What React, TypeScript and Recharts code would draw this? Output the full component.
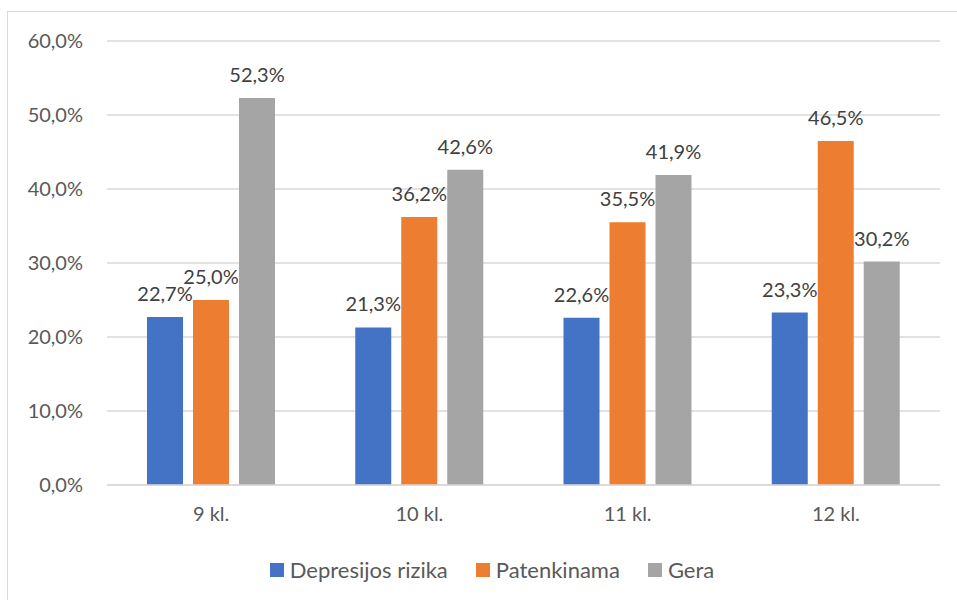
import { BarChart, Bar, XAxis, YAxis, CartesianGrid, LabelList } from 'recharts';

const categories = ['9 kl.', '10 kl.', '11 kl.', '12 kl.'];
const depresijosRizika = [22.7, 21.3, 22.6, 23.3];
const patenkinama = [25.0, 36.2, 35.5, 46.5];
const gera = [52.3, 42.6, 41.9, 30.2];
const yTicks = [0, 10, 20, 30, 40, 50, 60];

const series = [
  { key: 'depresija', name: 'Depresijos rizika', color: '#4472c4' },
  { key: 'patenkinama', name: 'Patenkinama', color: '#ed7d31' },
  { key: 'gera', name: 'Gera', color: '#a5a5a5' },
];

const data = categories.map((name, i) => ({
  name,
  depresija: depresijosRizika[i],
  patenkinama: patenkinama[i],
  gera: gera[i],
}));

const fmt = (v: any) => `${Number(v).toFixed(1).replace('.', ',')}%`;
const font = 'Lato, "Open Sans", sans-serif';
const fs = 20;

export default function App() {
  return (
    <div style={{ position: 'absolute', left: 0, top: 0, width: 957, height: 600, background: '#fff', fontFamily: font }}>
      <div
        style={{
          position: 'absolute',
          left: 7,
          top: 11,
          width: 980,
          height: 620,
          border: '1.5px solid #d9d9d9',
          boxSizing: 'border-box',
        }}
      />
      <BarChart
        width={957}
        height={600}
        data={data}
        margin={{ top: 41, right: 17, bottom: 85, left: 0 }}
        barSize={36}
        barGap={10}
        style={{ position: 'absolute', left: 0, top: 0 }}
      >
        <CartesianGrid vertical={false} stroke="#d9d9d9" strokeWidth={1.5} />
        <XAxis
          dataKey="name"
          axisLine={{ stroke: '#d9d9d9', strokeWidth: 1.5 }}
          tickLine={false}
          tickSize={0}
          tickMargin={22}
          tick={{ fill: '#595959', fontSize: fs, fontFamily: font }}
        />
        <YAxis
          width={107}
          domain={[0, 60]}
          ticks={yTicks}
          tickFormatter={fmt}
          axisLine={false}
          tickLine={false}
          tickSize={0}
          tickMargin={24}
          tick={{ fill: '#595959', fontSize: fs, fontFamily: font }}
        />
        {series.map(s => (
          <Bar key={s.key} dataKey={s.key} name={s.name} fill={s.color} isAnimationActive={false}>
            <LabelList dataKey={s.key} position="top" offset={16} formatter={fmt} fill="#404040" fontSize={fs} fontFamily={font} />
          </Bar>
        ))}
      </BarChart>
      <div
        style={{
          position: 'absolute',
          left: 0,
          top: 556,
          width: 984,
          display: 'flex',
          justifyContent: 'center',
          alignItems: 'center',
          gap: 28,
          color: '#595959',
          fontSize: 22,
        }}
      >
        {series.map(s => (
          <div key={s.key} style={{ display: 'flex', alignItems: 'center', gap: 6 }}>
            <span style={{ display: 'inline-block', width: 14, height: 14, background: s.color }} />
            <span>{s.name}</span>
          </div>
        ))}
      </div>
    </div>
  );
}
